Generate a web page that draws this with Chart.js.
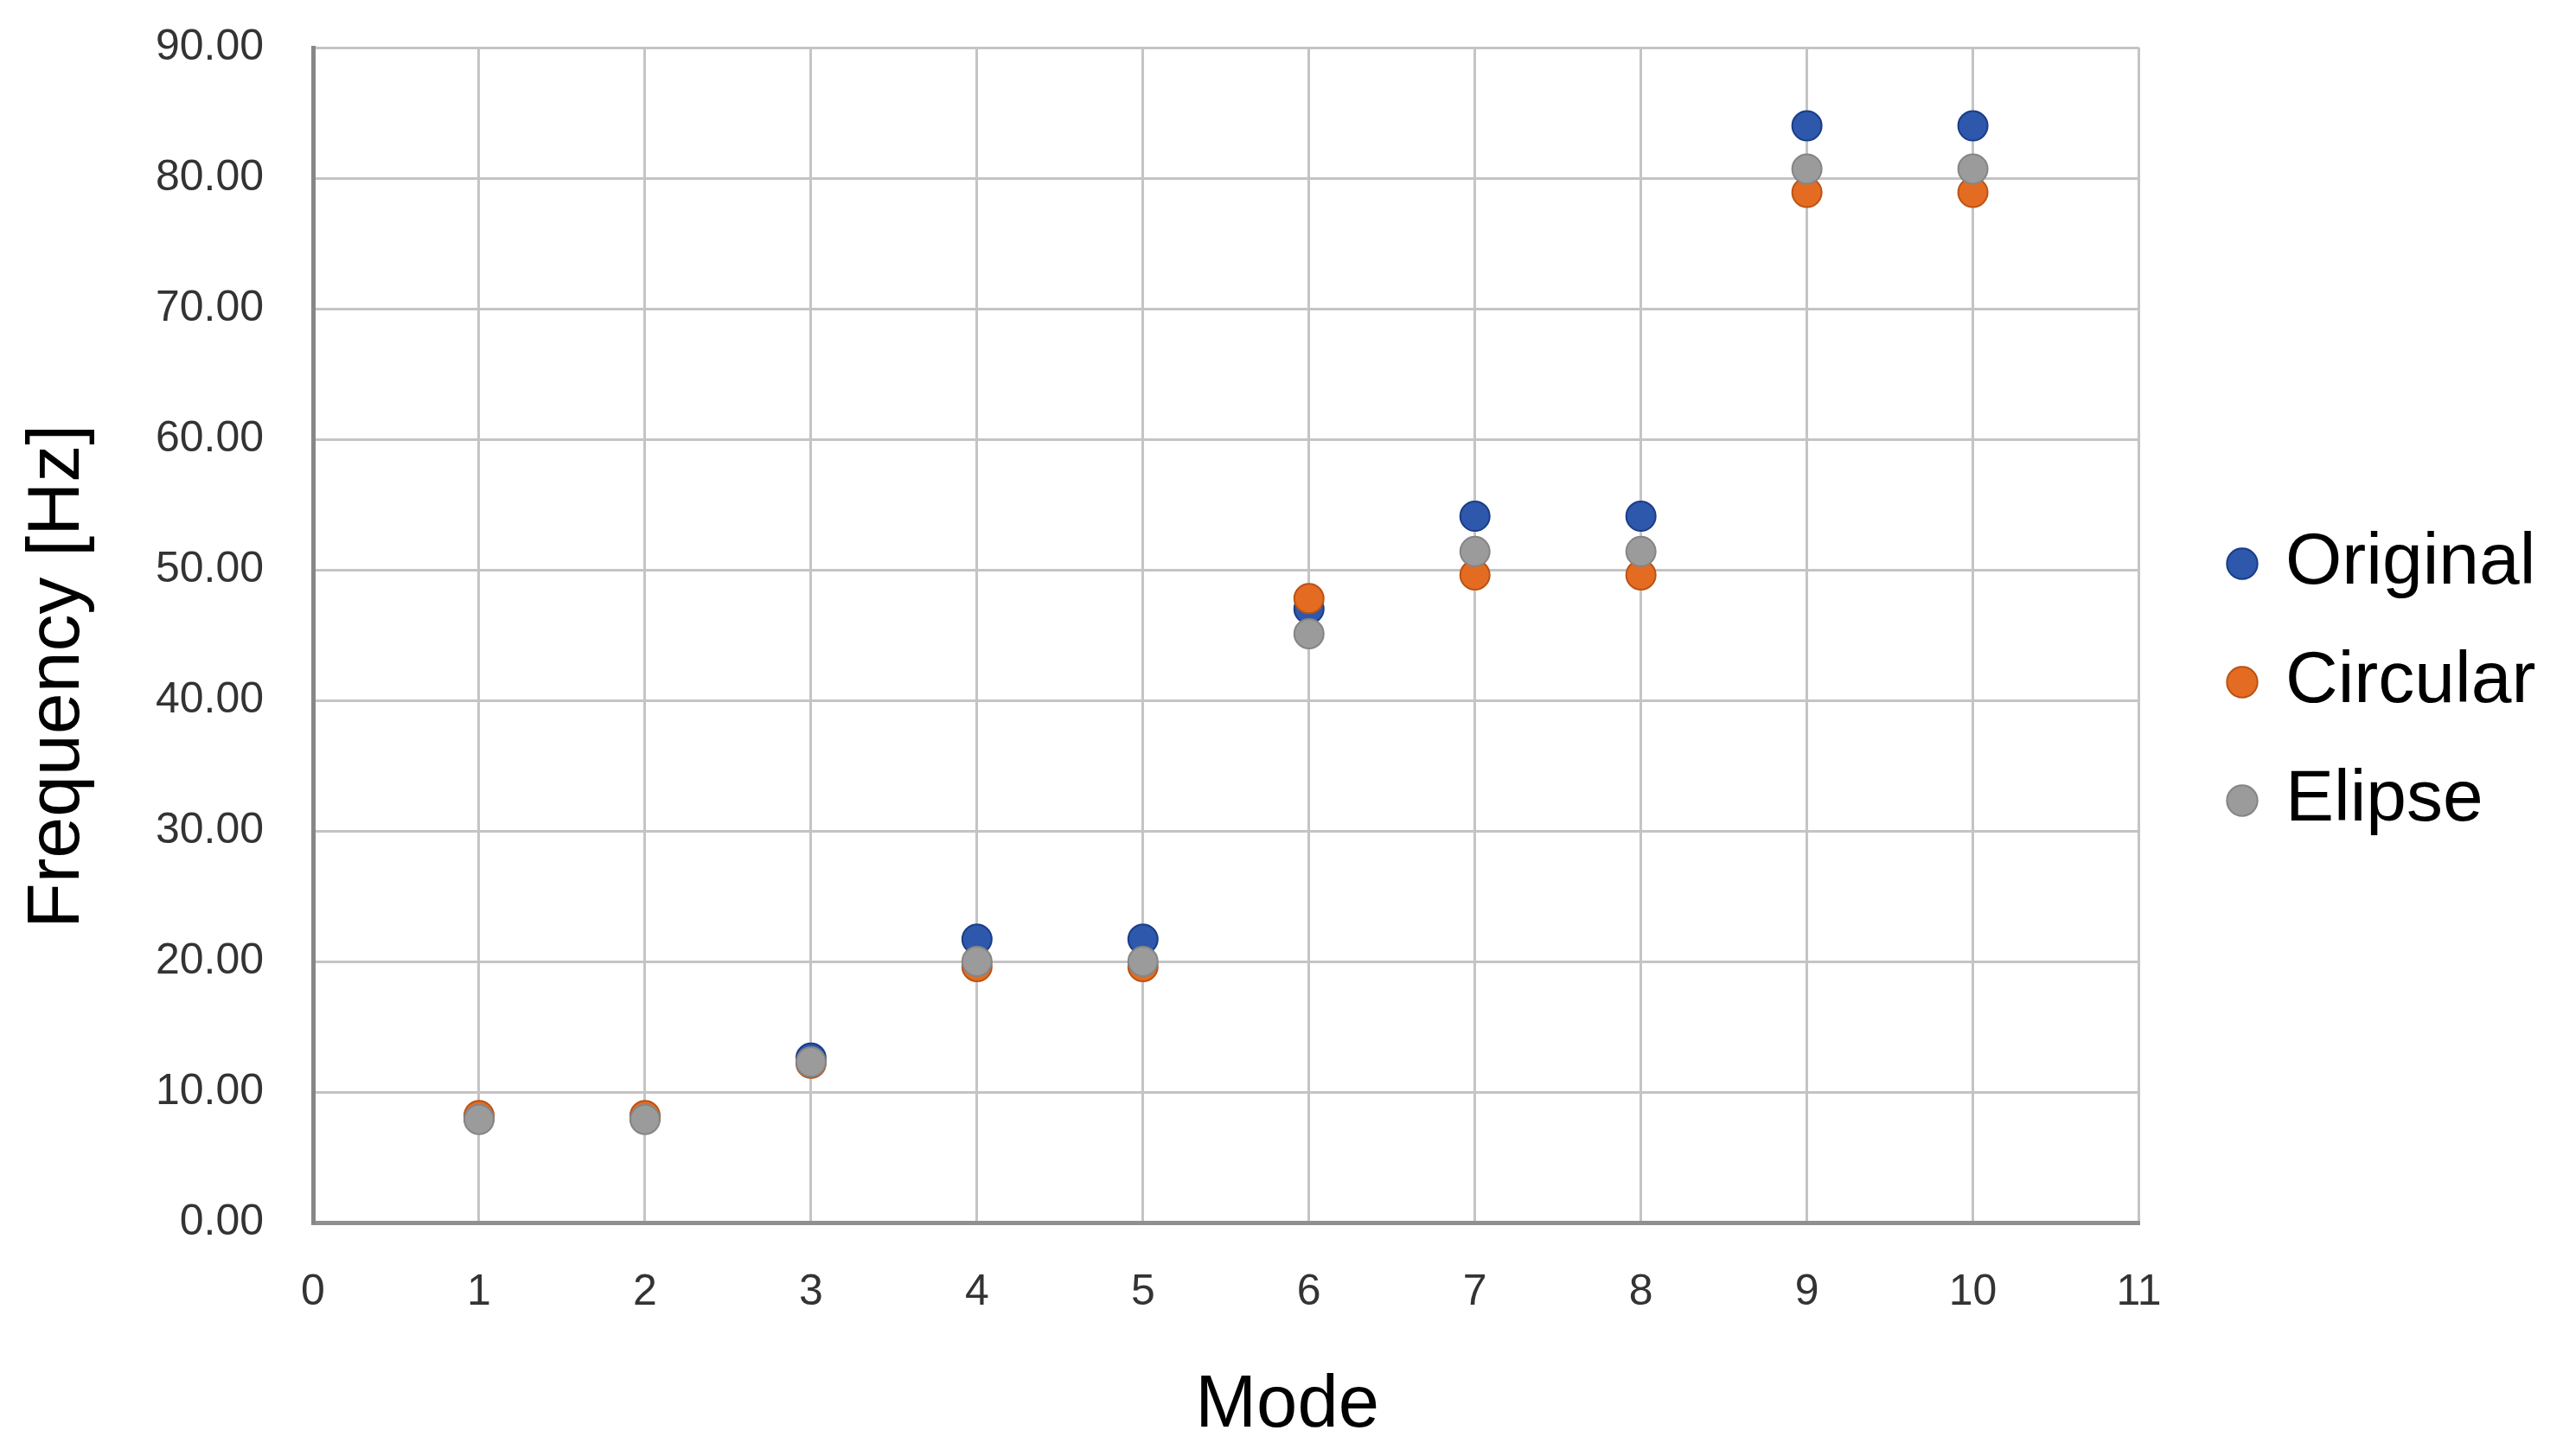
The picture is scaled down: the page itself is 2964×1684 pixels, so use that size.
<!DOCTYPE html>
<html>
<head>
<meta charset="utf-8">
<script src="https://cdn.jsdelivr.net/npm/chart.js@4/dist/chart.umd.min.js"></script>
<style>
  html, body { margin: 0; padding: 0; background: #fff; }
  #wrap { width: 2964px; height: 1684px; }
</style>
</head>
<body>
<div id="wrap"><canvas id="chart"></canvas></div>
<script>
// values
const modes = [1, 2, 3, 4, 5, 6, 7, 8, 9, 10];
const original = [8.0, 8.0, 12.6, 21.7, 21.7, 47.0, 54.1, 54.1, 84.0, 84.0];
const circular = [8.2, 8.2, 12.2, 19.6, 19.6, 47.8, 49.6, 49.6, 78.9, 78.9];
const elipse = [7.9, 7.9, 12.3, 20.0, 20.0, 45.1, 51.4, 51.4, 80.7, 80.7];
const seriesNames = ["Original", "Circular", "Elipse"];

const FONT = "'Liberation Sans', Arial, sans-serif";

// Helper: pair x/y arrays for a scatter dataset
function toPoints(xs, ys) {
  return xs.map((x, i) => ({ x: x, y: ys[i] }));
}

// Move the legend to where the original sits (right of plot, a bit above centre)
const legendNudge = {
  id: "legendNudge",
  afterLayout(chart) {
    const lg = chart.legend;
    if (!lg) return;
    const opts = lg.options.labels;
    const dy = 789 - (lg.top + lg.bottom) / 2;
    const dx = 2643 - (lg.left + opts.padding + opts.boxWidth + opts.font.size / 2);
    lg.top += dy; lg.bottom += dy;
    lg.left += dx; lg.right += dx;
  }
};

const ctx = document.getElementById("chart");
new Chart(ctx, {
  type: "scatter",
  data: {
    datasets: [
      {
        label: seriesNames[0],
        data: toPoints(modes, original),
        backgroundColor: "#2d58ab",
        borderColor: "#1b3c88",
        order: 3,
      },
      {
        label: seriesNames[1],
        data: toPoints(modes, circular),
        backgroundColor: "#e46c22",
        borderColor: "#bb5214",
        order: 2,
      },
      {
        label: seriesNames[2],
        data: toPoints(modes, elipse),
        backgroundColor: "#9b9b9b",
        borderColor: "#858585",
        order: 1,
      },
    ],
  },
  options: {
    responsive: true,
    maintainAspectRatio: false,
    animation: false,
    layout: { padding: { top: 55, right: 80, bottom: 0, left: 0 } },
    elements: {
      point: { radius: 17, borderWidth: 2, hoverRadius: 17 },
    },
    plugins: {
      tooltip: { enabled: false },
      legend: {
        position: "right",
        labels: {
          usePointStyle: true,
          boxWidth: 16,
          boxHeight: 25,
          padding: 53,
          color: "#000",
          font: { family: FONT, size: 84 },
          sort: (a, b) => a.datasetIndex - b.datasetIndex,
        },
      },
    },
    scales: {
      x: {
        type: "linear",
        min: 0,
        max: 11,
        afterFit(scale) { scale.height = 270; },
        ticks: {
          stepSize: 1,
          padding: 51,
          color: "#333",
          font: { family: FONT, size: 50 },
        },
        grid: { color: "#c4c4c4", lineWidth: 3, drawTicks: false },
        border: { color: "#8f8f8f", width: 5 },
        title: {
          display: true,
          text: "      Mode",
          color: "#000",
          font: { family: FONT, size: 85, lineHeight: 1 },
          padding: { top: 0, bottom: 15 },
        },
      },
      y: {
        min: 0,
        max: 90,
        afterFit(scale) {
          scale.width = 362;
          scale.paddingTop = 0; // let layout padding alone set the plot top
        },
        ticks: {
          stepSize: 10,
          padding: 57,
          color: "#333",
          font: { family: FONT, size: 50 },
          callback: (v) => v.toFixed(2),
        },
        grid: { color: "#c4c4c4", lineWidth: 3, drawTicks: false },
        border: { color: "#878787", width: 5 },
        title: {
          display: true,
          text: "Frequency [Hz]    ",
          color: "#000",
          font: { family: FONT, size: 86, lineHeight: 1 },
          padding: { top: 24, bottom: 0 },
        },
      },
    },
  },
  plugins: [legendNudge],
});
</script>
</body>
</html>
